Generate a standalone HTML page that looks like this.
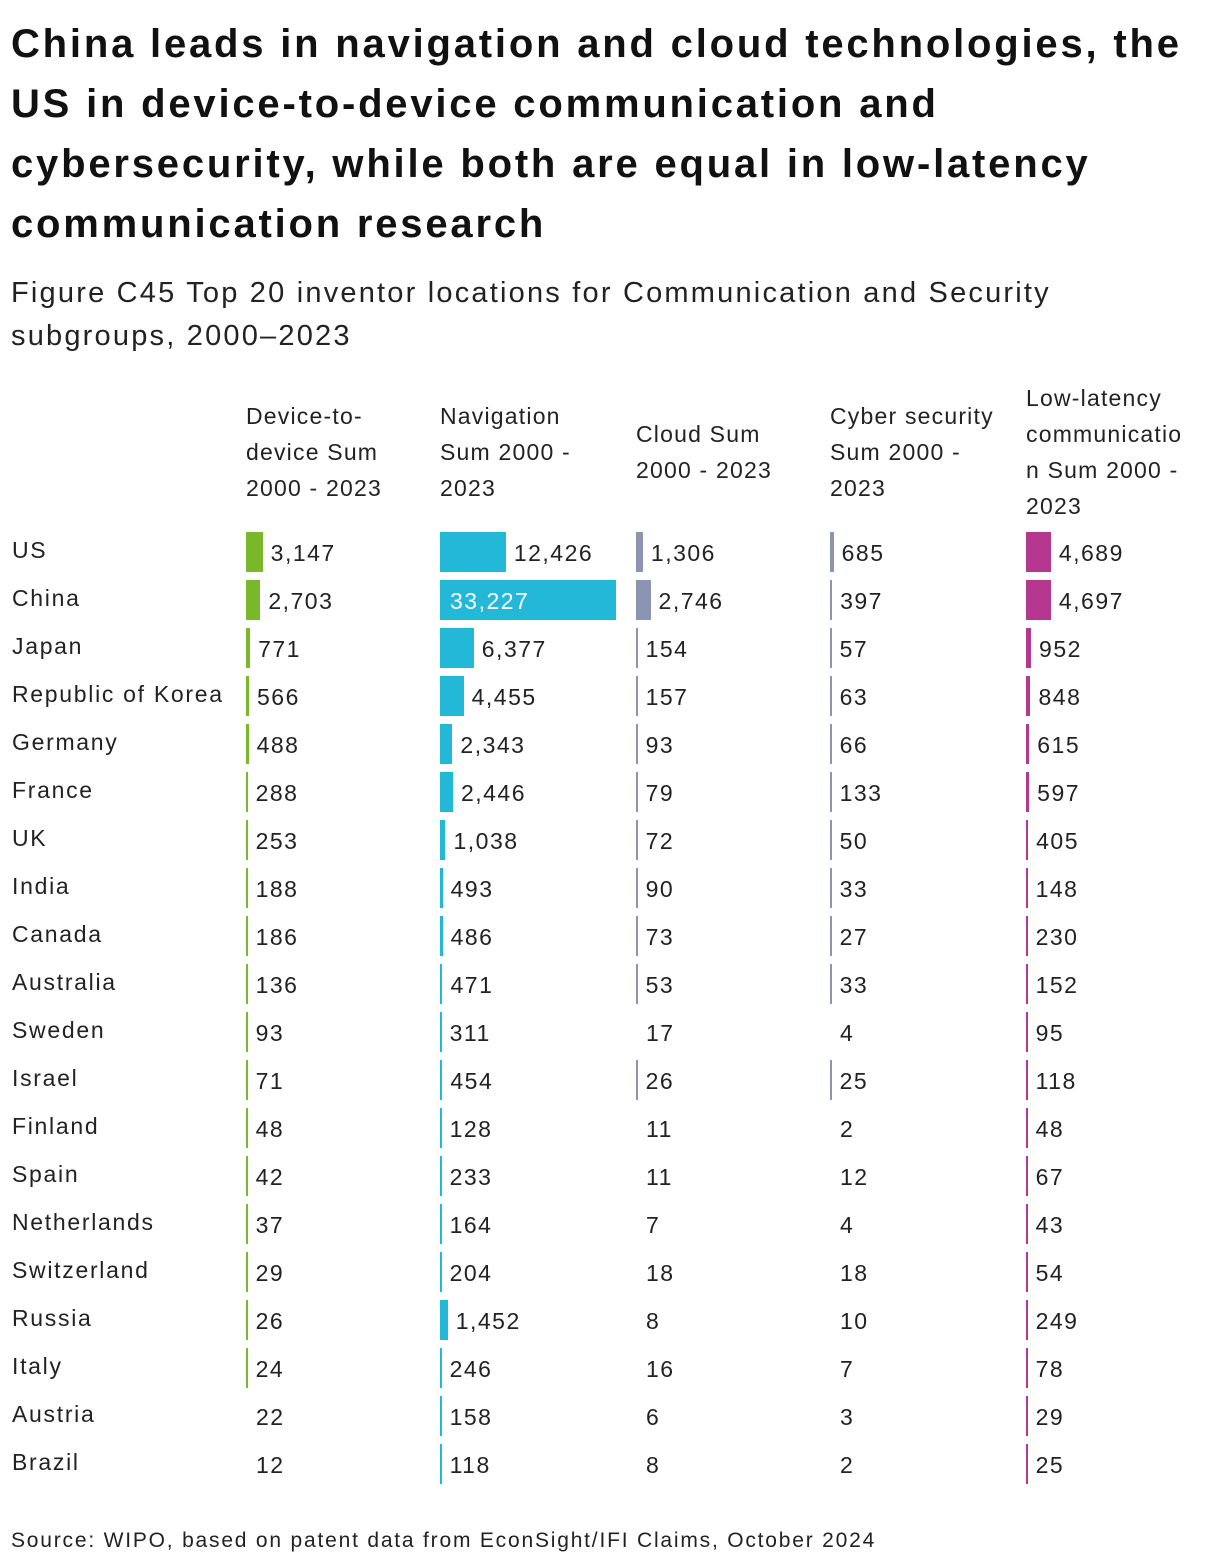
<!DOCTYPE html>
<html><head><meta charset="utf-8">
<style>
body{margin:0;background:#fff;width:1220px;height:1568px;overflow:hidden;font-family:"Liberation Sans",sans-serif;color:#111;position:relative}
#title{position:absolute;left:11px;top:14px;width:1210px;font-size:40px;font-weight:bold;line-height:60px;margin:0;letter-spacing:2.8px;white-space:nowrap}
#subtitle{position:absolute;left:11px;top:272px;font-size:29px;line-height:43px;margin:0;color:#222;letter-spacing:2.2px;white-space:nowrap}
.hdr{position:absolute;font-size:23px;line-height:36px;color:#222;white-space:nowrap;letter-spacing:1.2px}
.lbl{position:absolute;left:12px;font-size:23px;line-height:30px;color:#222;letter-spacing:1.7px}
.val{position:absolute;font-size:23px;line-height:30px;color:#222;letter-spacing:1.5px}
.bar{position:absolute;height:40px}
#source{position:absolute;left:11px;top:1529px;font-size:21px;color:#222;letter-spacing:1.8px;white-space:nowrap}
</style></head><body>
<h1 id="title">China leads in navigation and cloud technologies, the<br>US in device-to-device communication and<br>cybersecurity, while both are equal in low-latency<br>communication research</h1>
<p id="subtitle">Figure C45 Top 20 inventor locations for Communication and Security<br>subgroups, 2000–2023</p>
<div id="chart"></div>
<div id="source">Source: WIPO, based on patent data from EconSight/IFI Claims, October 2024</div>
<script>
const countries=["US","China","Japan","Republic of Korea","Germany","France","UK","India","Canada","Australia","Sweden","Israel","Finland","Spain","Netherlands","Switzerland","Russia","Italy","Austria","Brazil"];
const seriesNames=["Device-to-<br>device Sum<br>2000 - 2023","Navigation<br>Sum 2000 -<br>2023","Cloud Sum<br>2000 - 2023","Cyber security<br>Sum 2000 -<br>2023","Low-latency<br>communicatio<br>n Sum 2000 -<br>2023"];
const deviceVals=[3147,2703,771,566,488,288,253,188,186,136,93,71,48,42,37,29,26,24,22,12];
const navVals=[12426,33227,6377,4455,2343,2446,1038,493,486,471,311,454,128,233,164,204,1452,246,158,118];
const cloudVals=[1306,2746,154,157,93,79,72,90,73,53,17,26,11,11,7,18,8,16,6,8];
const cyberVals=[685,397,57,63,66,133,50,33,27,33,4,25,2,12,4,18,10,7,3,2];
const latencyVals=[4689,4697,952,848,615,597,405,148,230,152,95,118,48,67,43,54,249,78,29,25];
const allSeries=[deviceVals,navVals,cloudVals,cyberVals,latencyVals];
const colors=["#78b82a","#23b8d8","#8b94b2","#8b94b2","#b5378f"];
const colX=[246,440,636,830,1026];
const hdrTops=[398,398,416,398,380];
const maxVal=Math.max(...allSeries.flat());
const xScale=v=>v*176/maxVal;
const rowTop=i=>532+i*48;
const chart=document.getElementById('chart');
const fmt=v=>v.toLocaleString('en-US');
seriesNames.forEach((n,c)=>{
  const h=document.createElement('div');h.className='hdr';
  
  
  h.style.left=colX[c]+'px';h.style.top=hdrTops[c]+'px';
  h.innerHTML=n;chart.appendChild(h);
});
countries.forEach((name,i)=>{
  const l=document.createElement('div');l.className='lbl';
  
  
  l.style.top=(rowTop(i)+3)+'px';l.textContent=name;chart.appendChild(l);
  allSeries.forEach((arr,c)=>{
    const v=arr[i];let w=xScale(v);let show=v>=23;
    if(show)w=Math.max(w,1.6);
    if(show){
      const b=document.createElement('div');b.className='bar';
      
      
      b.style.left=colX[c]+'px';b.style.top=rowTop(i)+'px';b.style.width=w+'px';b.style.background=colors[c];
      chart.appendChild(b);
    }
    const t=document.createElement('div');t.className='val';
    
    
    let x=colX[c]+(show?w:2)+8;
    if(w>100){x=colX[c]+10;t.style.color='#fff';}
    t.style.left=x+'px';t.style.top=(rowTop(i)+6)+'px';t.textContent=fmt(v);
    chart.appendChild(t);
  });
});
</script>
</body></html>
